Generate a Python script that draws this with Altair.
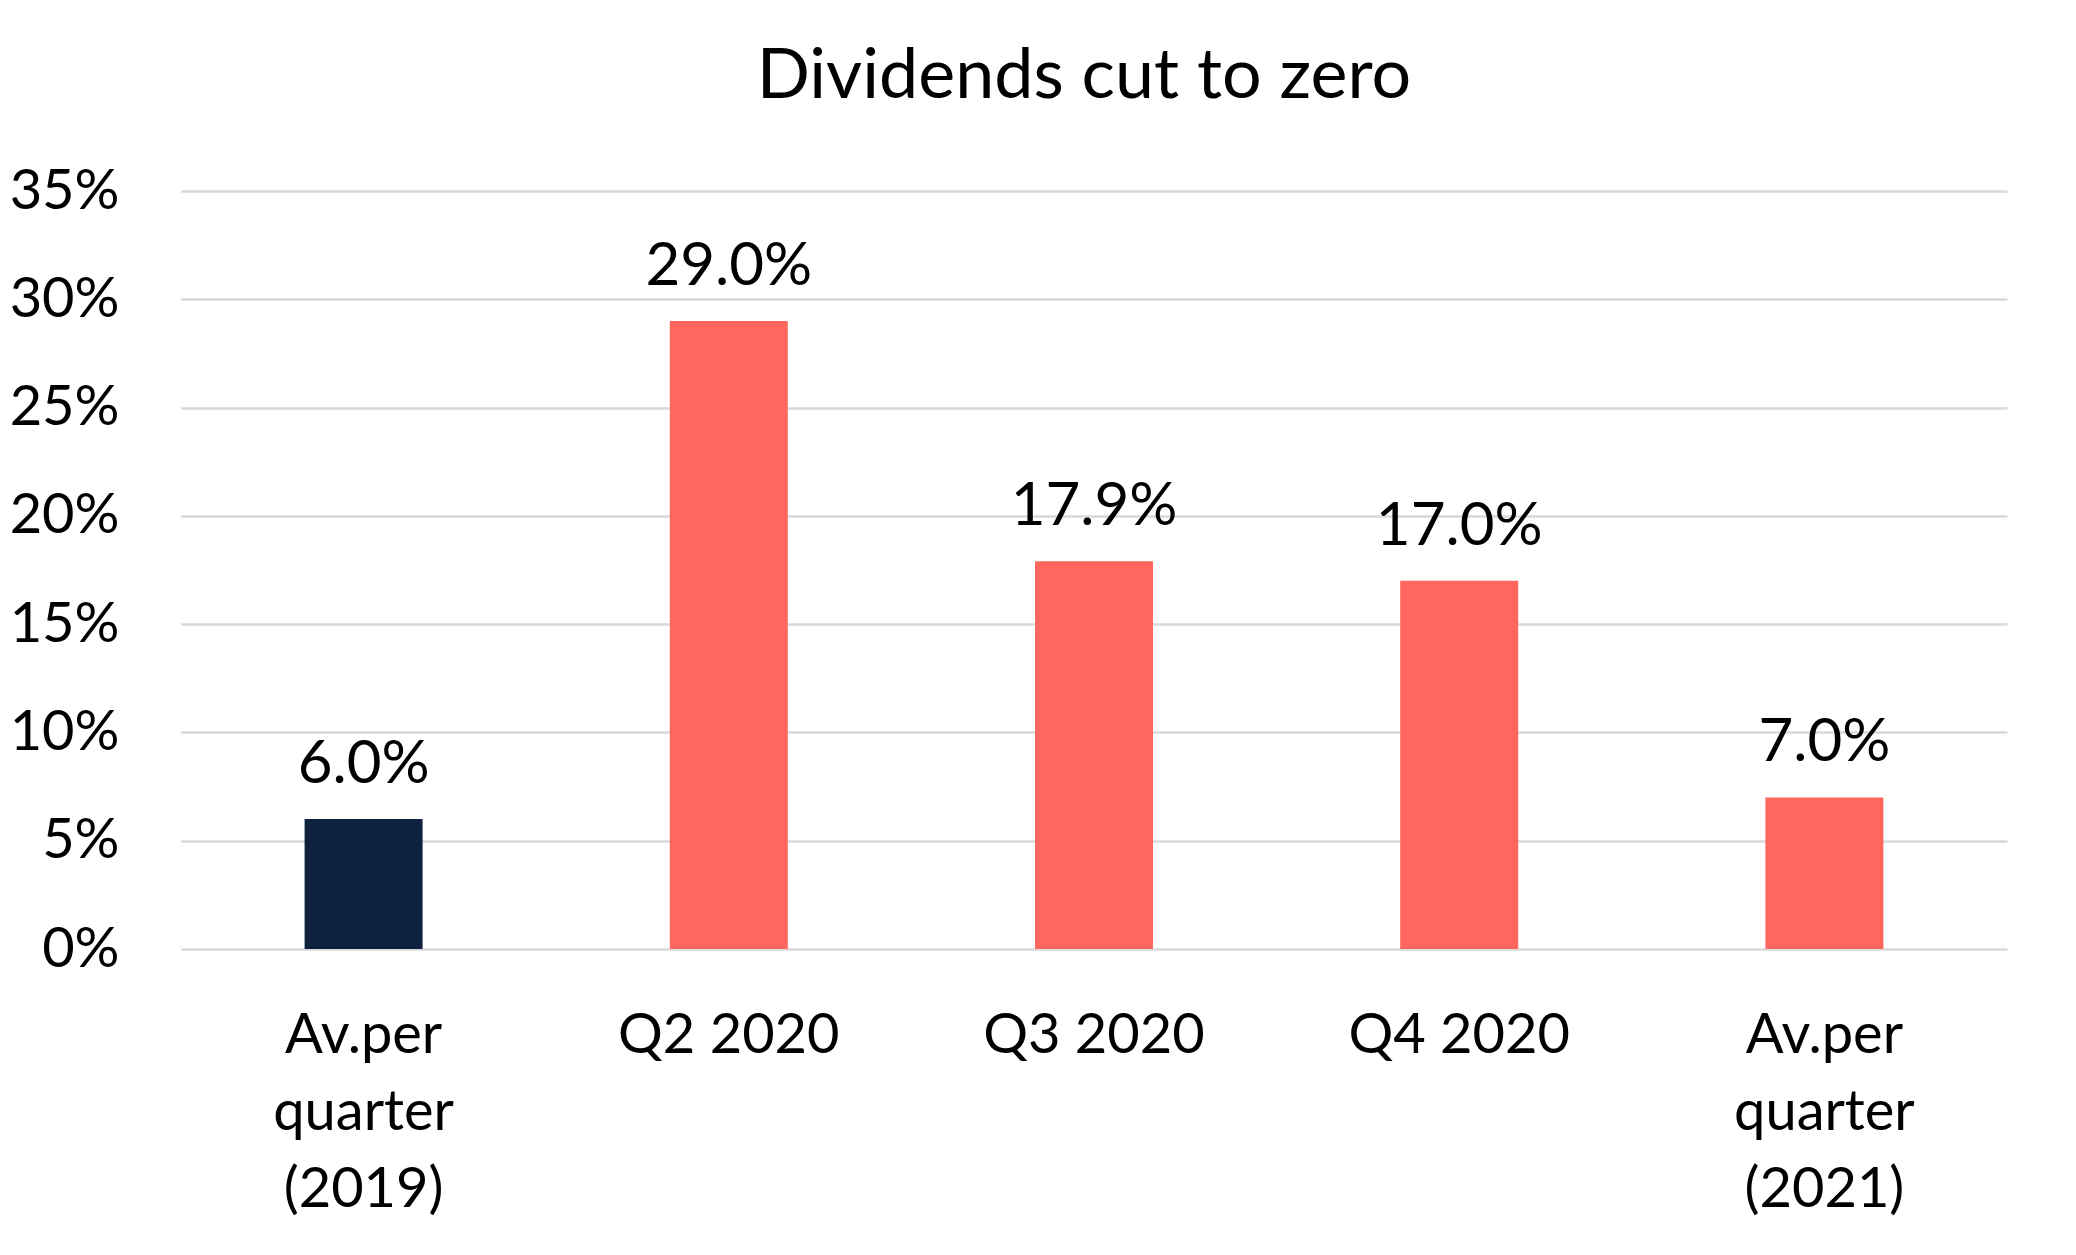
import altair as alt
import pandas as pd

categories = ["Av.per|quarter|(2019)", "Q2 2020", "Q3 2020", "Q4 2020", "Av.per|quarter|(2021)"]
values = [0.060, 0.290, 0.179, 0.170, 0.070]
bar_colors = ["#0E2240", "#FF665E", "#FF665E", "#FF665E", "#FF665E"]
value_labels = ["6.0%", "29.0%", "17.9%", "17.0%", "7.0%"]
y_ticks = [0, 0.05, 0.10, 0.15, 0.20, 0.25, 0.30, 0.35]

df = pd.DataFrame({"cat": categories, "value": values, "color": bar_colors, "label": value_labels})

FONT = "Lato"

x_enc = alt.X(
    "cat:N",
    sort=categories,
    scale=alt.Scale(paddingInner=0, paddingOuter=0),
    axis=alt.Axis(
        title=None, labelAngle=0, labelExpr="split(datum.label, '|')",
        labelFont=FONT, labelFontSize=56, labelColor="black",
        labelPadding=59, labelLineHeight=77, ticks=False, domain=False,
        labelBaseline="top", labelOverlap=False, grid=False, labelLimit=0,
    ),
)
y_enc = alt.Y(
    "value:Q",
    scale=alt.Scale(domain=[0, 0.35], nice=False),
    axis=alt.Axis(
        values=y_ticks, format=".0%", title=None, grid=True,
        gridColor="#D9D9D9", gridWidth=2.7, domain=False, ticks=False,
        labelPadding=62, labelFont=FONT, labelFontSize=56, labelColor="black",
    ),
)

bars = alt.Chart(df).mark_bar(size=118).encode(
    x=x_enc, y=y_enc, color=alt.Color("color:N", scale=None)
)
texts = alt.Chart(df).mark_text(
    baseline="alphabetic", dy=-36, font=FONT, fontSize=60, color="black"
).encode(x=alt.X("cat:N", sort=categories), y="value:Q", text="label:N")

chart = alt.layer(bars, texts).properties(
    width=1826,
    height=758,
    title=alt.TitleParams(
        "Dividends cut to zero", font=FONT, fontSize=70, fontWeight="normal",
        color="black", anchor="middle", baseline="alphabetic", offset=60,
        dy=65, dx=-10,
    ),
    autosize=alt.AutoSizeParams(type="none"),
    padding={"left": 173, "top": 183, "right": 50, "bottom": 290},
    background="white",
).configure_view(stroke=None)

chart.save("out.html", embed_options={"renderer": "svg", "actions": False})
